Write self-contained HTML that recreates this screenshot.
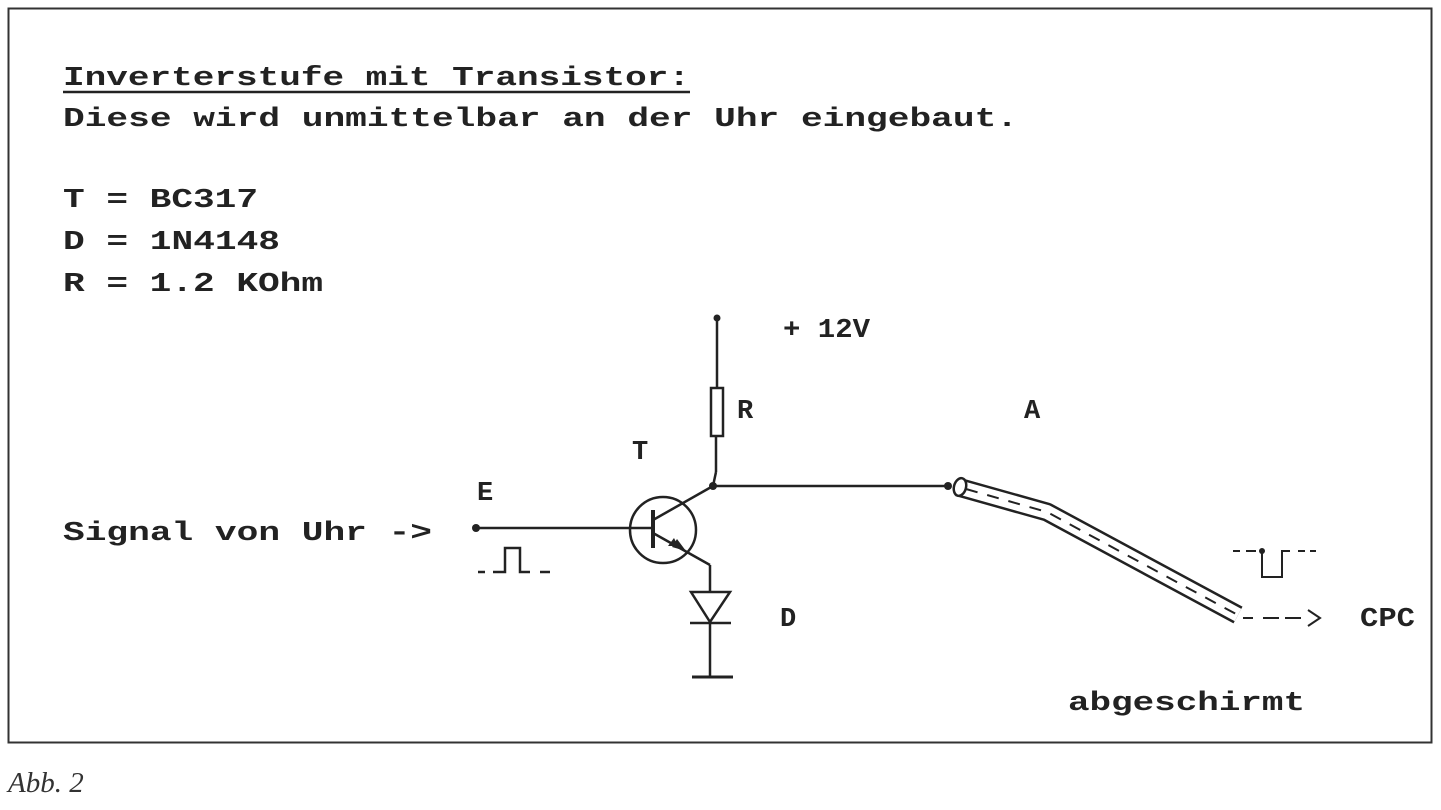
<!DOCTYPE html>
<html><head><meta charset="utf-8"><style>
html,body{margin:0;padding:0;background:#fff;}
svg{display:block}
text.m{font-family:"Liberation Mono",monospace;font-weight:bold;font-size:27px;fill:#222;}
</style></head><body>
<svg width="1441" height="810" viewBox="0 0 1441 810" xmlns="http://www.w3.org/2000/svg">
<rect x="0" y="0" width="1441" height="810" fill="#fff"/>
<rect x="8.5" y="8.5" width="1423" height="734" fill="none" stroke="#333" stroke-width="2"/>
<g>
<text class="m" x="63" y="85" textLength="627" lengthAdjust="spacingAndGlyphs">Inverterstufe mit Transistor:</text>
<line x1="63" y1="92" x2="690" y2="92" stroke="#222" stroke-width="2.5"/>
<text class="m" x="63" y="126" textLength="955" lengthAdjust="spacingAndGlyphs">Diese wird unmittelbar an der Uhr eingebaut.</text>
<text class="m" x="63" y="207" textLength="195" lengthAdjust="spacingAndGlyphs">T = BC317</text>
<text class="m" x="63" y="249" textLength="217" lengthAdjust="spacingAndGlyphs">D = 1N4148</text>
<text class="m" x="63" y="291" textLength="260" lengthAdjust="spacingAndGlyphs">R = 1.2 KOhm</text>
<text class="m" x="783" y="337" textLength="87" lengthAdjust="spacingAndGlyphs">+ 12V</text>
<text class="m" x="737" y="418">R</text>
<text class="m" x="1024" y="418">A</text>
<text class="m" x="632" y="459">T</text>
<text class="m" x="477" y="500">E</text>
<text class="m" x="63" y="540" textLength="369" lengthAdjust="spacingAndGlyphs">Signal von Uhr -&gt;</text>
<text class="m" x="780" y="626">D</text>
<text class="m" x="1360" y="626" textLength="55" lengthAdjust="spacingAndGlyphs">CPC</text>
<text class="m" x="1068" y="710" textLength="237" lengthAdjust="spacingAndGlyphs">abgeschirmt</text>
</g>
<text x="8" y="792" font-family="'Liberation Serif',serif" font-style="italic" font-size="29" fill="#333">Abb. 2</text>

<g stroke="#222" stroke-width="2.5" fill="none">
<!-- supply & resistor -->
<line x1="717" y1="318" x2="717" y2="388"/>
<rect x="711" y="388" width="12" height="48" fill="#fff"/>
<line x1="716" y1="436" x2="716" y2="472"/>
<line x1="716" y1="472" x2="713" y2="486"/>
<line x1="713" y1="486" x2="948" y2="486"/>
<!-- transistor -->
<circle cx="663" cy="530" r="33"/>
<line x1="476" y1="528" x2="652" y2="528"/>
<line x1="653" y1="510" x2="653" y2="548" stroke-width="4"/>
<line x1="653" y1="520" x2="713" y2="486"/>
<line x1="653" y1="533" x2="710" y2="565"/>
<line x1="710" y1="565" x2="710" y2="677"/>
<!-- diode -->
<path d="M691 592 L730 592 L710 622 Z" fill="#fff"/>
<line x1="690" y1="623" x2="731" y2="623"/>
<line x1="692" y1="677" x2="733" y2="677" stroke-width="3"/>
<!-- input pulse -->
<path d="M478 572 h7 M493 572 h12 v-24 h15 v24 h10 M540 572 h10"/>
<!-- output pulse -->
<path d="M1233 551 h7 M1246 551 h10 M1262 551 v26 h20 v-26 h8 M1298 551 h7 M1310 551 h6" stroke-width="2"/>
<!-- output arrow dashes -->
<path d="M1243 618 h10 M1263 618 h16 M1285 618 h16" stroke-width="2"/>
<path d="M1308 610 l12 8 l-12 8" stroke-width="2"/>
</g>
<!-- arrowhead on emitter -->
<path d="M678 546 L668 546 L674 538 Z" fill="#222" transform="rotate(0)"/>
<polygon points="686,551 672,547 677,539" fill="#222"/>
<!-- dots -->
<g fill="#222">
<circle cx="717" cy="318" r="3.5"/>
<circle cx="713" cy="486" r="4"/>
<circle cx="476" cy="528" r="4"/>
<circle cx="948" cy="486" r="4"/>
<circle cx="1262" cy="551" r="3"/>
</g>
<!-- cable -->
<g fill="none" stroke-linejoin="round">
<path d="M958 487 L1047 512 L1238 615" stroke="#222" stroke-width="19"/>
<path d="M958 487 L1047 512 L1238 615" stroke="#fff" stroke-width="14"/>
<path d="M966 489 L1047 512 L1236 614" stroke="#222" stroke-width="2" stroke-dasharray="12 10"/>
<ellipse cx="960" cy="487" rx="6" ry="9" stroke="#222" stroke-width="2.5" fill="#fff" transform="rotate(15 960 487)"/>
</g>
</svg>
</body></html>
